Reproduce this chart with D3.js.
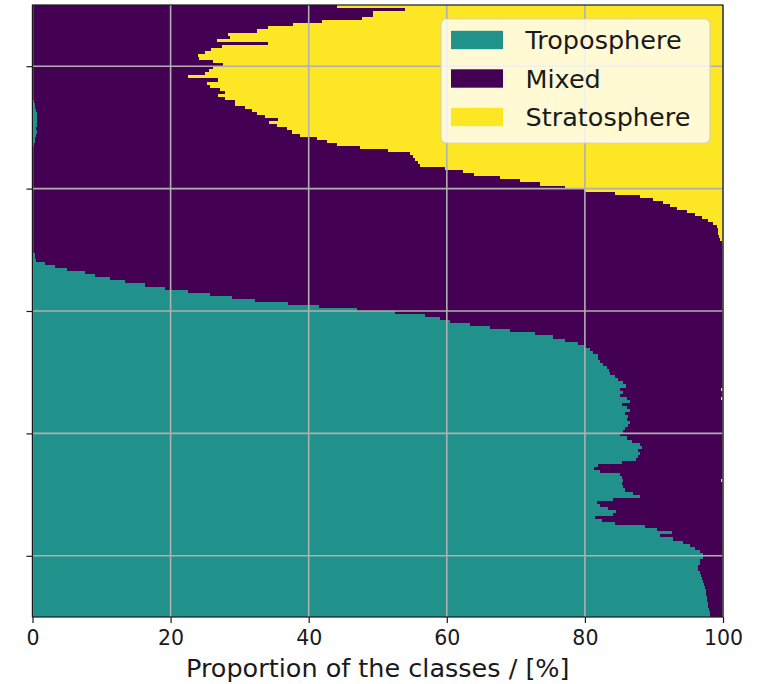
<!DOCTYPE html>
<html>
<head>
<meta charset="utf-8">
<script src="https://cdn.jsdelivr.net/npm/d3@7"></script>
<style>
  html, body { margin: 0; padding: 0; background: #ffffff; }
  svg { display: block; font-family: "DejaVu Sans", sans-serif; }
</style>
</head>
<body>
<svg id="chart" width="769" height="684"></svg>
<script>
// Share of each class per vertical level, listed from the top level down (200 levels).
const troposphere = [
  0,0,0,0,0,0,0,0,0,0,0,0,0,0,0,0,0,0,0,0,
  0,0,0,0,0,0,0,0,0,0,0,0.2,0.3,0.4,0.5,0.6,0.6,0.7,0.7,0.6,
  0.5,0.6,0.5,0.4,0.3,0.2,0,0,0,0,0,0,0,0,0,0,0,0,0,0,
  0,0,0,0,0,0,0,0,0,0,0,0,0,0,0,0,0,0,0,0,
  0,0.3,0.4,0.5,1.8,3.3,5.0,7.6,9.1,11.2,13.4,16.3,19.2,22.5,25.7,28.9,32.2,37.0,41.5,47.0,
  52.5,56.8,59.0,60.5,63.4,66.3,69.2,72.8,75.4,77.1,79.0,80.0,80.7,81.2,81.9,81.9,82.2,82.6,83.2,83.5,
  83.6,84.4,84.8,85.5,86.0,85.1,85.5,85.1,86.1,86.5,85.4,86.1,86.5,85.8,86.2,86.1,86.5,86.2,85.8,85.5,
  85.1,86.1,86.8,88.0,88.3,87.7,88.0,87.7,87.4,85.4,81.9,81.3,82.2,85.1,85.4,85.5,85.4,85.5,85.8,87.0,
  88.0,84.1,81.8,82.2,83.3,84.5,84.1,81.5,82.5,84.4,88.7,90.4,92.6,90.9,92.8,94.2,95.2,95.9,96.7,97.1,
  97.1,96.7,96.7,96.4,96.4,96.7,96.8,97.0,97.1,97.2,97.4,97.5,97.5,97.7,97.7,97.8,97.8,98.0,98.1,98.1
];
const stratosphere = [
  55.9,46.1,50.7,50.7,52.3,58.1,62.3,65.9,67.5,71.7,71.4,73.3,65.9,72.6,74.1,75.0,76.0,75.9,73.9,72.4,
  73.9,74.4,75.0,77.5,73.1,74.7,74.3,72.8,72.1,73.1,72.1,70.7,70.7,69.2,68.2,67.5,66.3,64.4,65.8,64.6,
  63.1,62.4,61.3,58.8,57.4,55.9,52.6,48.5,45.3,44.9,44.6,44.2,43.9,40.3,37.7,36.0,32.3,29.4,26.5,22.9,
  20.0,15.7,12.0,10.1,8.7,7.7,6.7,5.2,4.1,3.0,2.2,1.4,0.9,0.7,0.7,0.6,0.4,0.1,0,0,
  0,0,0,0,0,0,0,0,0,0,0,0,0,0,0,0,0,0,0,0,
  0,0,0,0,0,0,0,0,0,0,0,0,0,0,0,0,0,0,0,0,
  0,0,0,0,0,0.3,0,0,0.3,0,0,0,0,0,0,0,0,0,0,0,
  0,0,0,0,0,0,0,0,0,0,0,0,0,0,0,0.3,0,0,0,0,
  0,0,0,0,0,0,0,0,0,0,0,0,0,0,0,0,0,0,0,0,
  0,0,0,0,0,0,0,0,0,0,0,0,0,0,0,0,0,0,0,0
];
// Mixed class fills the remainder of each level.
const mixed = troposphere.map((t, i) => 100 - t - stratosphere[i]);

const classes = ["Troposphere", "Mixed", "Stratosphere"];
const classColors = ["#21918c", "#440154", "#fde725"];
const xTicks = [0, 20, 40, 60, 80, 100];
const yTicks = [20, 60, 100, 140, 180];
const xLabel = "Proportion of the classes / [%]";

const N = troposphere.length;
const plot = { left: 32.5, right: 723, top: 5, bottom: 617 };

const svg = d3.select("#chart");
const x = d3.scaleLinear().domain([0, 100]).range([plot.left, plot.right]);
const y = d3.scaleLinear().domain([0, N]).range([plot.bottom, plot.top]);

// level 0 is the lowest bar, so the top-down lists are reversed here
const rows = troposphere.map((t, i) => ({
  level: N - 1 - i,
  Troposphere: t,
  Mixed: mixed[i],
  Stratosphere: stratosphere[i]
}));

const stack = d3.stack().keys(classes);
const series = stack(rows);

const bars = svg.append("g").attr("shape-rendering", "crispEdges");
series.forEach((s, si) => {
  bars.append("g")
    .attr("fill", classColors[si])
    .selectAll("rect")
    .data(s)
    .join("rect")
    .attr("x", d => x(d[0]))
    .attr("width", d => Math.max(0, x(d[1]) - x(d[0])))
    .attr("y", d => y(d.data.level + 1))
    .attr("height", d => y(d.data.level) - y(d.data.level + 1));
});

// grid drawn over the bars
const grid = svg.append("g").attr("stroke", "#b0b0b0").attr("stroke-width", 1.6);
grid.selectAll("line.v").data(xTicks).join("line")
  .attr("x1", d => x(d)).attr("x2", d => x(d))
  .attr("y1", plot.top).attr("y2", plot.bottom);
grid.selectAll("line.h").data(yTicks).join("line")
  .attr("x1", plot.left).attr("x2", plot.right)
  .attr("y1", d => y(d)).attr("y2", d => y(d));

// frame
svg.append("rect")
  .attr("x", plot.left).attr("y", plot.top)
  .attr("width", plot.right - plot.left).attr("height", plot.bottom - plot.top)
  .attr("fill", "none").attr("stroke", "#1a1a1a").attr("stroke-width", 1.2);

// axes
const xAxis = svg.append("g")
  .attr("transform", `translate(0,${plot.bottom})`)
  .call(d3.axisBottom(x).tickValues(xTicks).tickFormat(d3.format("d")).tickSize(6).tickPadding(7));
xAxis.select(".domain").remove();
xAxis.selectAll("line").attr("stroke", "#1a1a1a").attr("stroke-width", 1.2);
xAxis.selectAll("text")
  .attr("font-family", "DejaVu Sans").attr("font-size", "20.5px").attr("fill", "#1a1a1a");

const yAxis = svg.append("g")
  .attr("transform", `translate(${plot.left},0)`)
  .call(d3.axisLeft(y).tickValues(yTicks).tickFormat("").tickSize(6));
yAxis.select(".domain").remove();
yAxis.selectAll("line").attr("stroke", "#1a1a1a").attr("stroke-width", 1.2);

svg.append("text")
  .attr("x", (plot.left + plot.right) / 2)
  .attr("y", 676.5)
  .attr("text-anchor", "middle")
  .attr("font-size", "25.5px")
  .attr("fill", "#1a1a1a")
  .text(xLabel);

// legend
const legend = svg.append("g");
legend.append("rect")
  .attr("x", 441).attr("y", 19).attr("width", 269).attr("height", 124)
  .attr("rx", 5).attr("ry", 5)
  .attr("fill", "#ffffff").attr("fill-opacity", 0.8)
  .attr("stroke", "#cccccc").attr("stroke-opacity", 0.8).attr("stroke-width", 1.2);
classes.forEach((c, i) => {
  const cy = 40 + i * 38.5;
  legend.append("rect")
    .attr("x", 451).attr("y", cy - 9.2).attr("width", 52).attr("height", 18.4)
    .attr("fill", classColors[i]);
  legend.append("text")
    .attr("x", 525.5).attr("y", cy)
    .attr("dominant-baseline", "central")
    .attr("font-size", "25.5px")
    .attr("fill", "#1a1a1a")
    .text(c);
});
</script>
</body>
</html>
